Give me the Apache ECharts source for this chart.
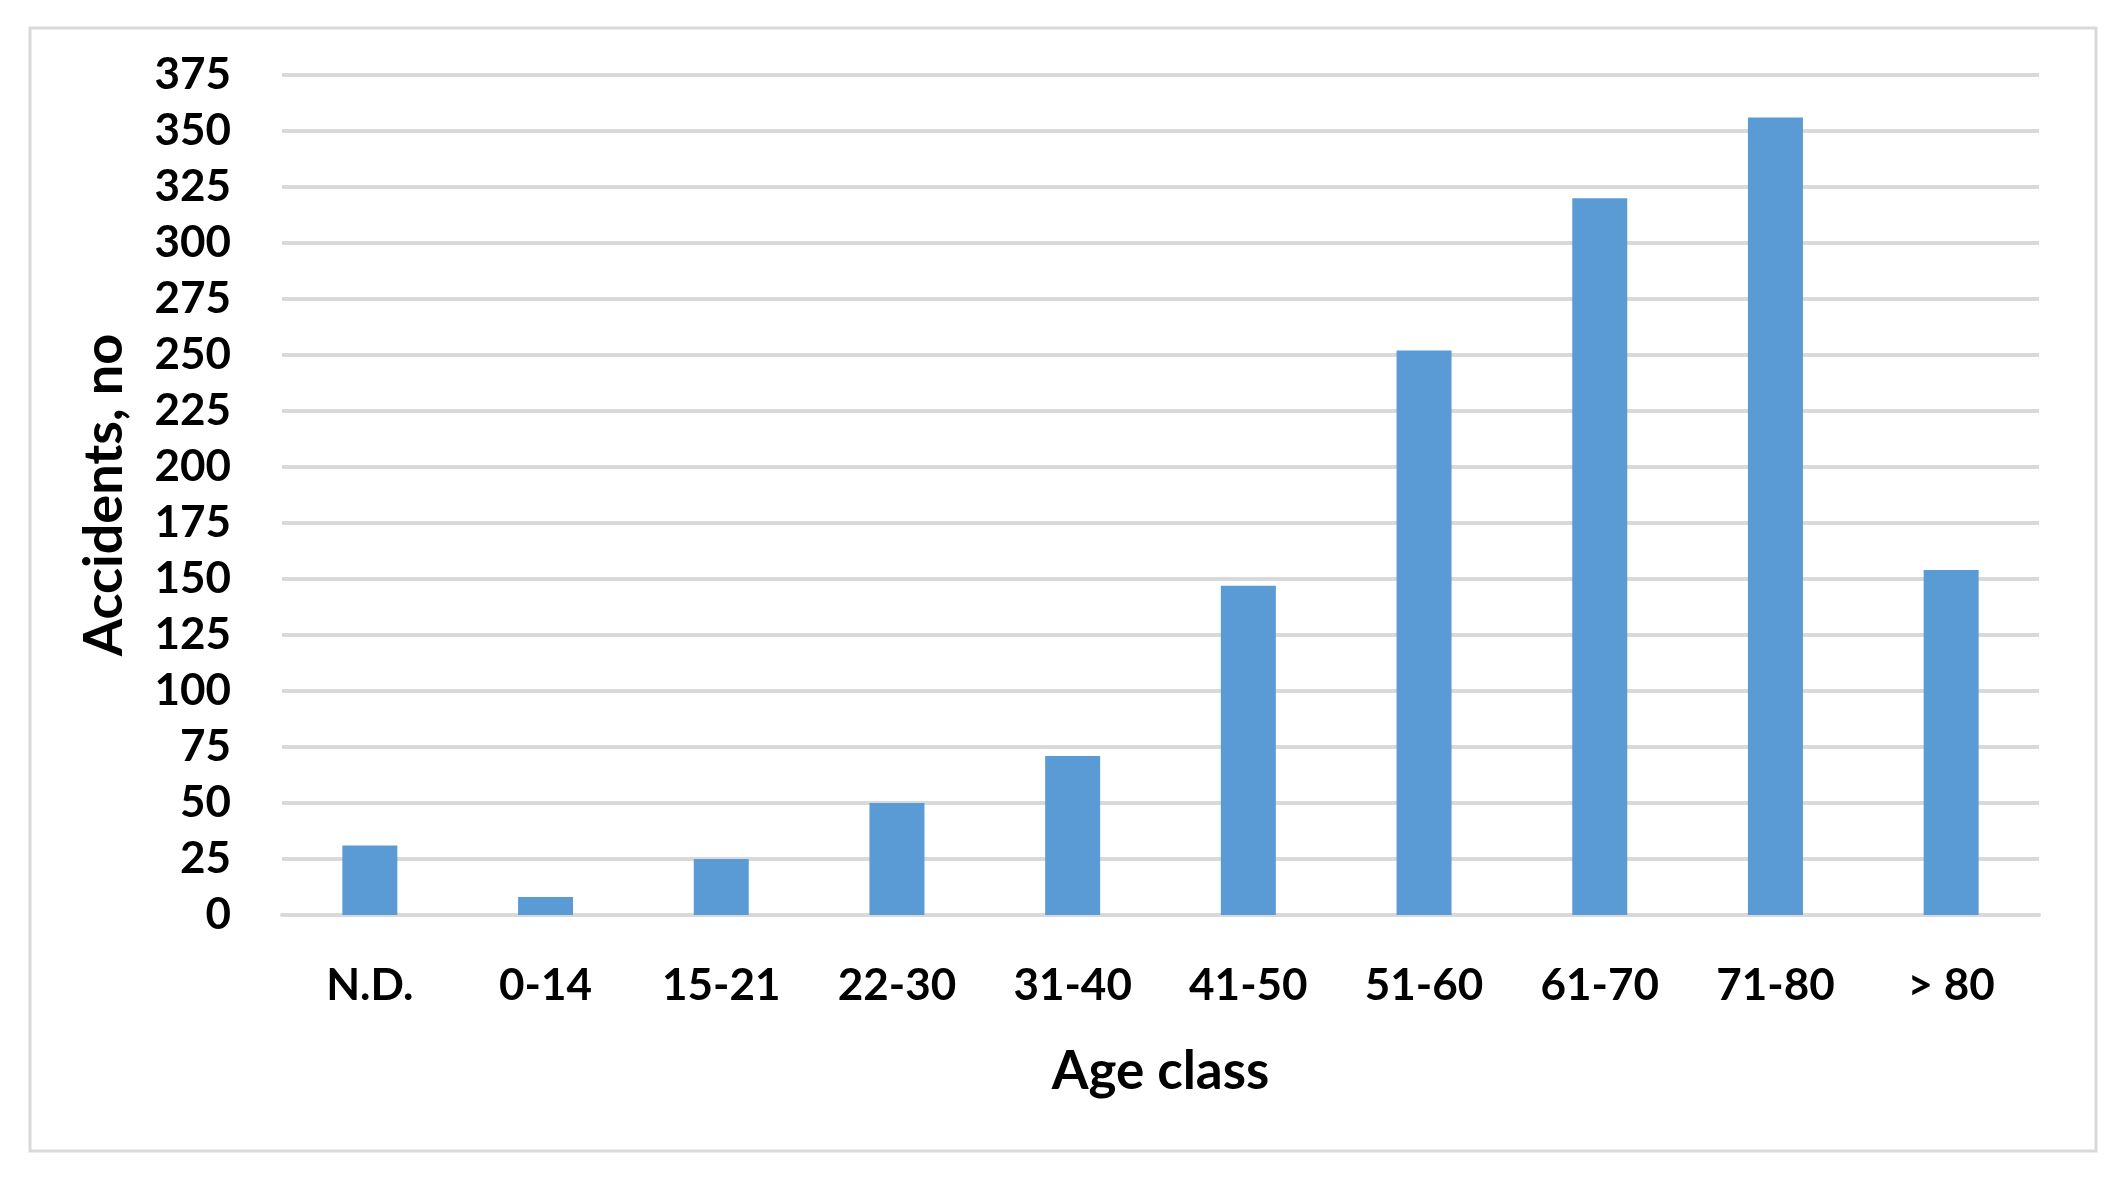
<!DOCTYPE html>
<html>
<head>
<meta charset="utf-8">
<script src="https://cdn.jsdelivr.net/npm/echarts@6/dist/echarts.min.js"></script>
<style>
html,body{margin:0;padding:0;background:#fff;}
#chart{width:2128px;height:1179px;}
</style>
</head>
<body>
<div id="chart"></div>
<script>
const categories = ['N.D.', '0-14', '15-21', '22-30', '31-40', '41-50', '51-60', '61-70', '71-80', '> 80'];
const accidents = [31, 8, 25, 50, 71, 147, 252, 320, 356, 154];
const yMin = 0, yMax = 375, yStep = 25;
const xTitle = 'Age class';
const yTitle = 'Accidents, no';

const FONT = 'Lato, "Liberation Sans", sans-serif';
const chart = echarts.init(document.getElementById('chart'), null, {renderer: 'canvas'});
chart.setOption({
  backgroundColor: '#ffffff',
  animation: false,
  graphic: [{
    type: 'rect',
    shape: {x: 30, y: 28, width: 2066, height: 1123},
    style: {fill: 'none', stroke: '#d9d9d9', lineWidth: 3},
    silent: true
  }],
  grid: {left: 282, top: 75, width: 1757, height: 840, containLabel: false},
  xAxis: {
    type: 'category',
    data: categories,
    name: xTitle,
    nameLocation: 'middle',
    nameGap: 130,
    nameTextStyle: {fontFamily: FONT, fontWeight: 'bold', fontSize: 53, color: '#000'},
    axisLine: {show: true, lineStyle: {color: '#d9d9d9', width: 4}},
    axisTick: {show: false},
    axisLabel: {fontFamily: FONT, fontWeight: 'bold', fontSize: 44, color: '#000', margin: 49, interval: 0}
  },
  yAxis: {
    type: 'value',
    min: yMin, max: yMax, interval: yStep,
    name: yTitle,
    nameLocation: 'middle',
    nameGap: 150,
    nameRotate: 90,
    nameTextStyle: {fontFamily: FONT, fontWeight: 'bold', fontSize: 54, color: '#000'},
    axisLine: {show: false},
    axisTick: {show: false},
    splitLine: {show: true, lineStyle: {color: '#d9d9d9', width: 4}},
    axisLabel: {fontFamily: FONT, fontWeight: 'bold', fontSize: 44, color: '#000', margin: 51}
  },
  series: [{
    type: 'bar',
    data: accidents,
    barWidth: '31.3%',
    itemStyle: {color: '#5b9bd5'}
  }]
});
</script>
</body>
</html>
